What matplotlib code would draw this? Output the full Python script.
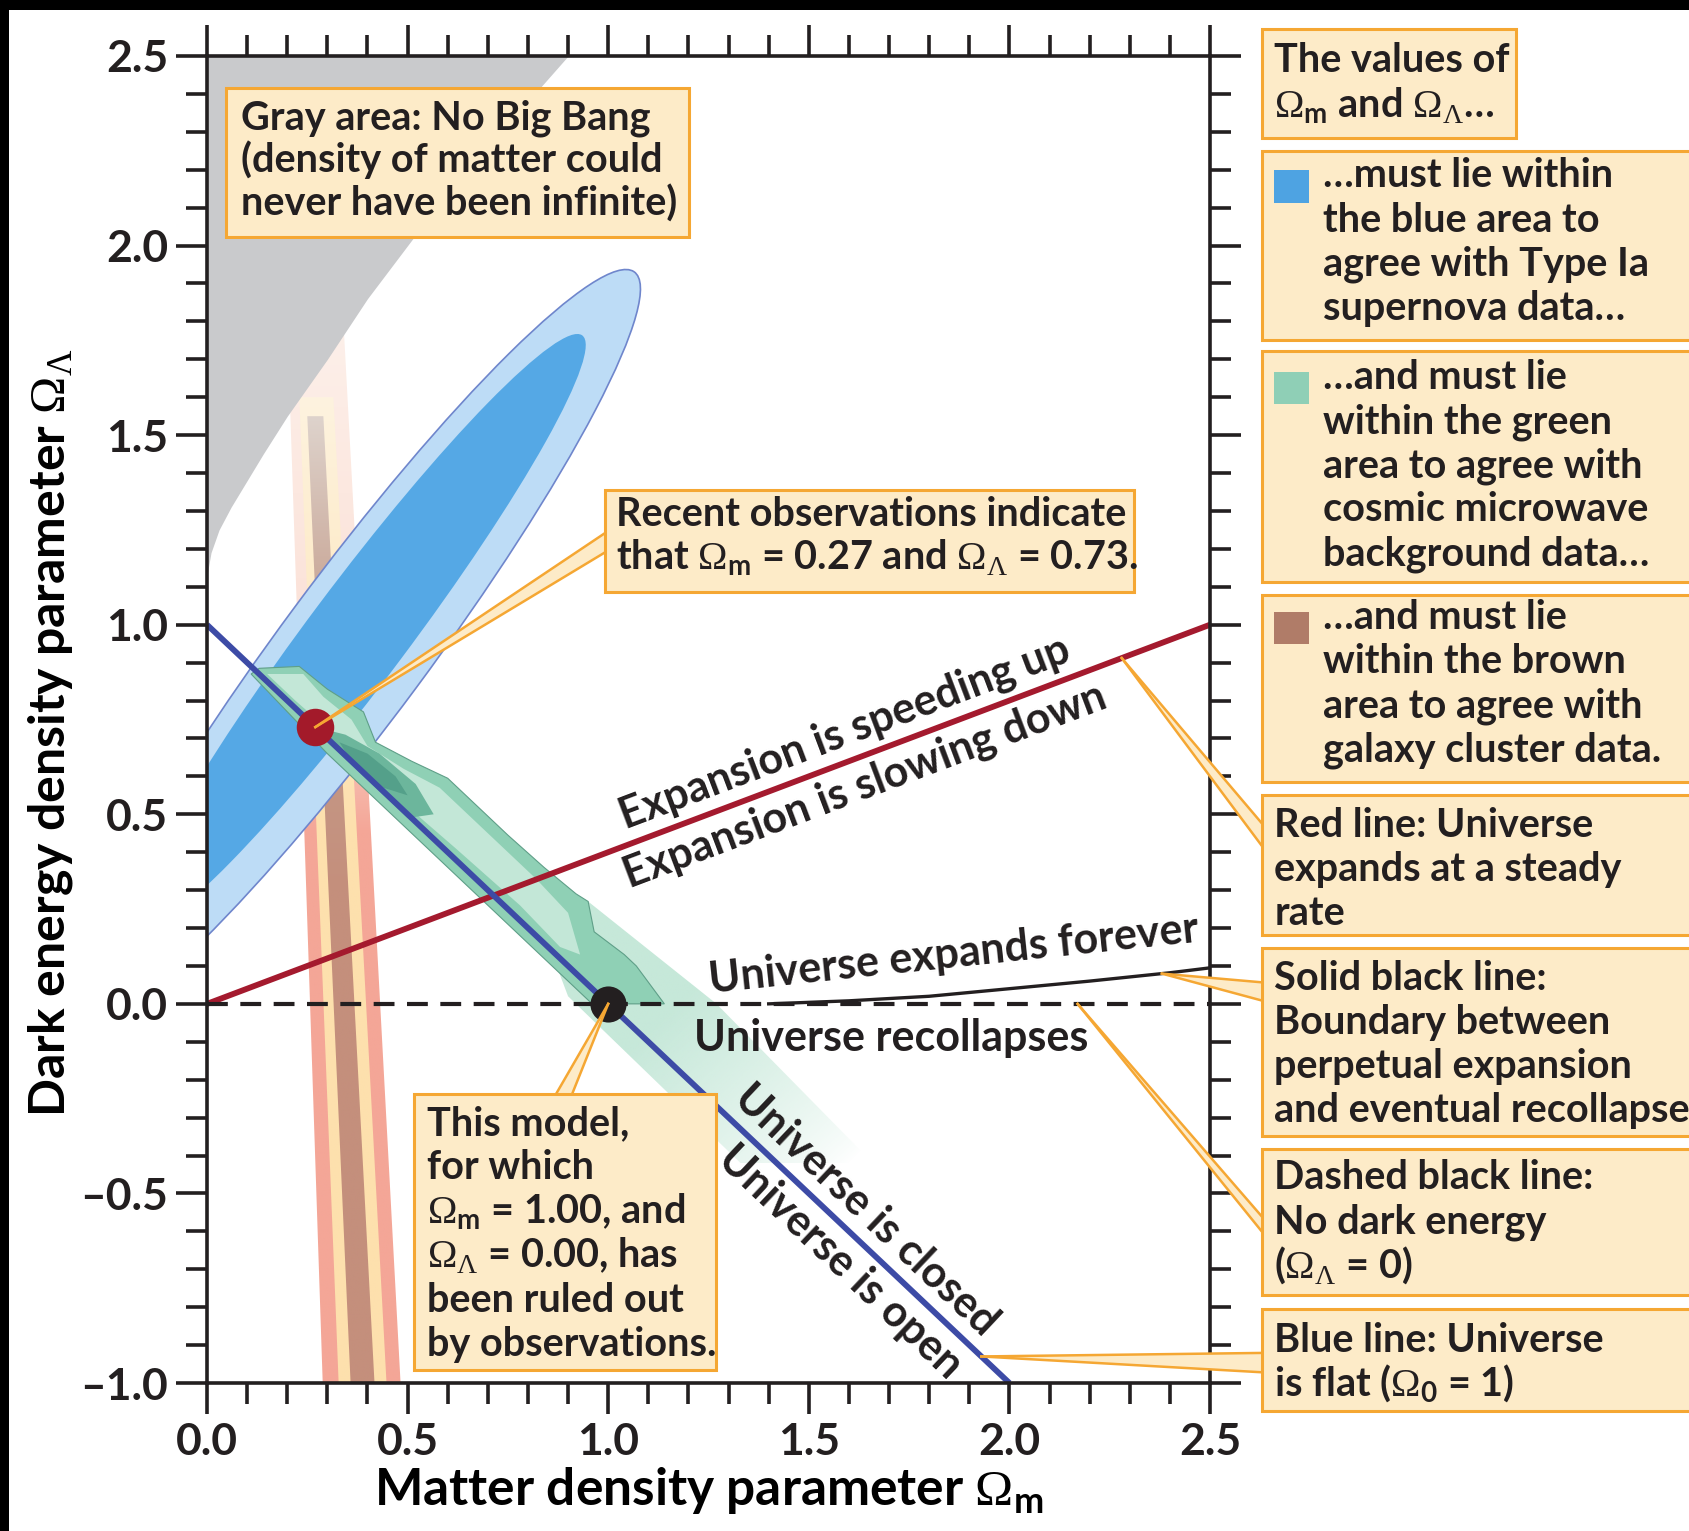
import numpy as np
import matplotlib
matplotlib.use('Agg')
import matplotlib.pyplot as plt
import matplotlib.patches as patches
from matplotlib.lines import Line2D
from matplotlib.ticker import MultipleLocator, FuncFormatter

plt.rcParams['font.family'] = ['Lato', 'DejaVu Sans']
plt.rcParams['font.weight'] = 'bold'
plt.rcParams['axes.labelweight'] = 'bold'
plt.rcParams['mathtext.fontset'] = 'custom'
plt.rcParams['mathtext.rm'] = 'Lato:bold'
plt.rcParams['mathtext.bf'] = 'Lato:bold'
plt.rcParams['mathtext.it'] = 'Lato:bold'
plt.rcParams['mathtext.sf'] = 'Lato:bold'
plt.rcParams['mathtext.cal'] = 'Liberation Serif:regular'
plt.rcParams['text.color'] = '#231f20'

# ---- data ----
# no big bang boundary (gray area lies to the upper left)
nbb_x = [0.0, 0.01, 0.03, 0.06, 0.10, 0.14, 0.20, 0.30, 0.40, 0.50, 0.60, 0.70, 0.80, 0.90]
nbb_y = [1.13, 1.19, 1.25, 1.31, 1.38, 1.45, 1.55, 1.70, 1.86, 2.00, 2.14, 2.26, 2.38, 2.50]

# supernova confidence ellipses: centre, full width, full height, tilt (deg)
sn_outer_c, sn_outer_w, sn_outer_h, sn_outer_a = (0.37, 0.94), 2.42, 0.37, 55.0
sn_inner_c, sn_inner_w, sn_inner_h, sn_inner_a = (0.38, 0.98), 1.92, 0.25, 54.7

# galaxy cluster bands (x of left/right edge at bottom and top)
pink_x = [0.29, 0.485, 0.34, 0.20]
pink_y = [-1.05, -1.05, 1.80, 1.80]
yellow_x = [0.33, 0.45, 0.315, 0.23]
yellow_y = [-1.05, -1.05, 1.60, 1.60]
brown_x = [0.36, 0.42, 0.29, 0.25]
brown_y = [-1.05, -1.05, 1.55, 1.55]

# CMB region
cmb_faint_x = [0.80, 0.95, 1.27, 1.66, 1.33, 0.90]
cmb_faint_y = [0.30, 0.27, 0.0, -0.42, -0.42, 0.02]
cmb_x = [0.11, 0.13, 0.23, 0.30, 0.39, 0.42, 0.51, 0.60, 0.68, 0.75, 0.84, 0.92, 0.95, 0.965,
         1.04, 1.07, 1.14, 0.96, 0.60, 0.30]
cmb_y = [0.87, 0.885, 0.89, 0.83, 0.77, 0.69, 0.64, 0.595, 0.515, 0.445, 0.36, 0.29, 0.27, 0.19,
         0.13, 0.10, 0.0, 0.0, 0.36, 0.66]
cmb_light_x = [0.15, 0.24, 0.29, 0.36, 0.40, 0.49, 0.58, 0.66, 0.73, 0.82, 0.90, 0.93,
               0.88, 0.78, 0.62, 0.50, 0.36, 0.22]
cmb_light_y = [0.87, 0.87, 0.81, 0.75, 0.68, 0.62, 0.57, 0.49, 0.42, 0.33, 0.24, 0.13,
               0.15, 0.26, 0.41, 0.52, 0.67, 0.80]
cmb_dark_x = [0.27, 0.345, 0.43, 0.52, 0.565, 0.50, 0.40, 0.30]
cmb_dark_y = [0.73, 0.71, 0.66, 0.58, 0.50, 0.49, 0.59, 0.69]
cmb_core_x = [0.33, 0.40, 0.47, 0.50, 0.44, 0.36]
cmb_core_y = [0.69, 0.66, 0.60, 0.55, 0.57, 0.64]

# lines
flat_x, flat_y = [0.0, 2.0], [1.0, -1.0]
steady_x, steady_y = [0.0, 2.5], [0.0, 1.0]
nodark_x, nodark_y = [0.0, 2.5], [0.0, 0.0]
bound_x = [1.4, 1.6, 1.8, 2.0, 2.2, 2.4, 2.5]
bound_y = [0.0, 0.008, 0.02, 0.04, 0.06, 0.082, 0.095]

best_fit = (0.27, 0.73)
eds_model = (1.00, 0.00)

# ---- colours / sizes ----
INK = '#231f20'
CREAM = '#fdebc8'
ORANGE = '#f5a733'
FS_BOX = 28.5
FS_LAB = 31

W, H = 1689, 1531
S = W / 1568.0          # layout below is measured on a 1568 px wide view


def fxy(xd, yd):
    return xd * S / W, 1 - yd * S / H


fig = plt.figure(figsize=(W / 100, H / 100), dpi=100, facecolor='black')
fig.add_artist(patches.Rectangle((9 / W, 0), 1, 1 - 10 / H, transform=fig.transFigure,
                                 fc='white', ec='none', zorder=-10))

ax = fig.add_axes([207 / W, 1 - 1383 / H, 1003 / W, 1327 / H])
ax.set_xlim(0, 2.5)
ax.set_ylim(-1, 2.5)


def grad_poly(xs, ys, stop_y, stop_c, zorder):
    poly = patches.Polygon(np.column_stack([xs, ys]), closed=True, fc='none', ec='none')
    ax.add_patch(poly)
    y0, y1 = min(ys), max(ys)
    yy = np.linspace(y1, y0, 400)
    cols = [matplotlib.colors.to_rgb(c) for c in stop_c]
    rgb = [np.interp(yy, stop_y, [c[i] for c in cols]) for i in range(3)]
    img = np.stack(rgb + [np.ones_like(yy)], axis=-1).reshape(400, 1, 4)
    im = ax.imshow(img, extent=[min(xs), max(xs), y0, y1], aspect='auto',
                   interpolation='bilinear', zorder=zorder)
    im.set_clip_path(poly)


# cluster bands
grad_poly(pink_x, pink_y, [-1.05, 0.45, 0.9, 1.8], ['#f4a697', '#f4a697', '#fbe0d6', '#fdf0ea'], 1)
grad_poly(yellow_x, yellow_y, [-1.05, 0.45, 1.6], ['#fde0ad', '#fde0ad', '#fef3df'], 1.1)
grad_poly(brown_x, brown_y, [-1.05, 0.3, 1.0, 1.55], ['#c48f7c', '#c48f7c', '#c6a08f', '#ded3cc'], 1.2)

# no big bang
ax.fill_betweenx(nbb_y, 0, nbb_x, color='#c9cacc', lw=0, zorder=2)

# supernova ellipses
ax.add_patch(patches.Ellipse(sn_outer_c, sn_outer_w, sn_outer_h, angle=sn_outer_a,
                             fc='#bddcf6', ec='#6f86cc', lw=1.2, zorder=3))
ax.add_patch(patches.Ellipse(sn_inner_c, sn_inner_w, sn_inner_h, angle=sn_inner_a,
                             fc='#55a8e5', ec='none', zorder=3.1))

# faint CMB trail, fading along the flat line
poly = patches.Polygon(np.column_stack([cmb_faint_x, cmb_faint_y]), closed=True, fc='none', ec='none')
ax.add_patch(poly)
gx = np.linspace(min(cmb_faint_x), max(cmb_faint_x), 200)
gy = np.linspace(max(cmb_faint_y), min(cmb_faint_y), 200)
GX, GY = np.meshgrid(gx, gy)
alpha = np.clip((2.02 - (GX - GY)) / 0.85, 0, 1) ** 0.8
img = np.zeros(GX.shape + (4,))
img[..., :3] = matplotlib.colors.to_rgb('#c6e8d9')
img[..., 3] = alpha
im = ax.imshow(img, extent=[gx[0], gx[-1], gy[-1], gy[0]], aspect='auto',
               interpolation='bilinear', zorder=3.5)
im.set_clip_path(poly)

ax.fill(cmb_x, cmb_y, fc='#8fd0b5', ec='#5f9f88', lw=0.8, zorder=4)
ax.fill(cmb_light_x, cmb_light_y, fc='#c3e7d7', ec='none', zorder=4.1)
ax.fill(cmb_dark_x, cmb_dark_y, fc='#6cb69c', ec='none', zorder=4.2)
ax.fill(cmb_core_x, cmb_core_y, fc='#54a08a', ec='none', zorder=4.3)

# lines
ax.plot(steady_x, steady_y, color='#a41a2e', lw=4.2, solid_capstyle='butt', zorder=5)
ax.plot(flat_x, flat_y, color='#3d4ba6', lw=4.2, solid_capstyle='butt', zorder=5)
ax.plot(nodark_x, nodark_y, color=INK, lw=3.0, dashes=(5, 3), zorder=5)
ax.plot(bound_x, bound_y, color=INK, lw=2.4, zorder=5)

ax.plot(*best_fit, 'o', ms=27, color='#a31a2a', mec='none', zorder=6)
ax.plot(*eds_model, 'o', ms=26, color=INK, mec='none', zorder=6)

ax.set_xlim(0, 2.5)
ax.set_ylim(-1, 2.5)

# axes styling
for sp in ax.spines.values():
    sp.set_linewidth(2.6)
    sp.set_color(INK)
    sp.set_zorder(7)
ax.xaxis.set_major_locator(MultipleLocator(0.5))
ax.xaxis.set_minor_locator(MultipleLocator(0.1))
ax.yaxis.set_major_locator(MultipleLocator(0.5))
ax.yaxis.set_minor_locator(MultipleLocator(0.1))
fmt = FuncFormatter(lambda v, p: f'{v:.1f}'.replace('-', '\u2013'))
ax.xaxis.set_major_formatter(fmt)
ax.yaxis.set_major_formatter(fmt)
ax.tick_params(which='both', direction='out', top=True, right=True, width=2.6, color=INK,
               labelsize=32, labelcolor=INK)
ax.tick_params(which='major', length=22, pad=6)
ax.tick_params(which='minor', length=15)

OM = r'$\mathcal{\Omega}_{\mathrm{m}}$'
OL = r'$\mathcal{\Omega}_{\mathcal{\Lambda}}$'
O0 = r'$\mathcal{\Omega}_{\mathrm{0}}$'

ax.set_xlabel('Matter density parameter ' + OM, fontsize=37, fontweight='bold')
ax.set_ylabel('Dark energy density parameter ' + OL, fontsize=36, fontweight='bold')
ax.xaxis.set_label_coords(0.5, -0.062)
ax.yaxis.set_label_coords(-0.132, 0.49)


def disp_angle(xs, ys):
    p0 = ax.transData.transform((xs[0], ys[0]))
    p1 = ax.transData.transform((xs[-1], ys[-1]))
    return np.degrees(np.arctan2(p1[1] - p0[1], p1[0] - p0[0]))


red_ang = disp_angle(steady_x, steady_y)
blue_ang = disp_angle(flat_x, flat_y)
lab = dict(fontsize=FS_LAB, ha='center', va='center', rotation_mode='anchor', zorder=8)
ax.text(1.59, 0.715, 'Expansion is speeding up', rotation=red_ang, **lab)
ax.text(1.64, 0.575, 'Expansion is slowing down', rotation=red_ang, **lab)
ax.text(1.862, 0.13, 'Universe expands forever', rotation=6, **lab)
ax.text(1.705, -0.09, 'Universe recollapses', **lab)
ax.text(1.643, -0.544, 'Universe is closed', rotation=blue_ang, **lab)
ax.text(1.58, -0.68, 'Universe is open', rotation=blue_ang, **lab)

# ---- call-out boxes ----
inv = fig.transFigure.inverted()


def data_fig(pt):
    return inv.transform(ax.transData.transform(pt))


def box(x0, y0, x1, y1):
    fx0, fy1 = fxy(x0, y1)
    fx1, fy0 = fxy(x1, y0)
    fig.add_artist(patches.Rectangle((fx0, fy1), fx1 - fx0, fy0 - fy1, transform=fig.transFigure,
                                     fc=CREAM, ec=ORANGE, lw=2.2, zorder=10))


def lines(x, y_first, texts, step=41):
    for i, t in enumerate(texts):
        fx, fy = fxy(x, y_first + 12 + i * step)
        fig.text(fx, fy, t, fontsize=FS_BOX, ha='left', va='baseline', zorder=12)


def wedge(tip, b1, b2):
    t = data_fig(tip)
    p1 = fxy(*b1)
    p2 = fxy(*b2)
    fig.add_artist(patches.Polygon([t, p1, p2], closed=True, transform=fig.transFigure,
                                   fc=CREAM, ec='none', zorder=9))
    for p in (p1, p2):
        fig.add_artist(Line2D([t[0], p[0]], [t[1], p[1]], transform=fig.transFigure,
                              color=ORANGE, lw=1.8, zorder=9.5))


def square(x0, y0, color):
    fx0, fy1 = fxy(x0, y0 + 30)
    fx1, fy0 = fxy(x0 + 32, y0)
    fig.add_artist(patches.Rectangle((fx0, fy1), fx1 - fx0, fy0 - fy1, transform=fig.transFigure,
                                     fc=color, ec='none', zorder=11))


# inside the plot
box(210, 82, 640, 220)
lines(224, 108, ['Gray area: No Big Bang', '(density of matter could', 'never have been infinite)'], 40)

wedge(best_fit, (563, 494), (563, 512))
box(562, 455, 1053, 550)
lines(572, 476, ['Recent observations indicate',
                 'that ' + OM + ' = 0.27 and ' + OL + ' = 0.73.'])

wedge(eds_model, (516, 1016), (531, 1016))
box(384, 1016, 665, 1272)
lines(396, 1042, ['This model,', 'for which', OM + ' = 1.00, and', OL + ' = 0.00, has',
                  'been ruled out', 'by observations.'])

# right column
box(1172, 27, 1407, 128)
lines(1183, 55, ['The values of', OM + ' and ' + OL + '\u2026'], 42)

box(1172, 140, 1580, 316)
square(1183, 158, '#4ea3e2')
lines(1228, 162, ['\u2026must lie within', 'the blue area to', 'agree with Type Ia',
                  'supernova data\u2026'])

box(1172, 326, 1580, 540)
square(1183, 345, '#8fcfb6')
lines(1228, 349, ['\u2026and must lie', 'within the green', 'area to agree with',
                  'cosmic microwave', 'background data\u2026'])

box(1172, 552, 1580, 726)
square(1183, 568, '#b07c68')
lines(1228, 572, ['\u2026and must lie', 'within the brown', 'area to agree with',
                  'galaxy cluster data.'])

wedge((2.28, np.interp(2.28, steady_x, steady_y)), (1172, 765), (1172, 786))
box(1172, 738, 1580, 868)
lines(1183, 765, ['Red line: Universe', 'expands at a steady', 'rate'])

wedge((2.38, np.interp(2.38, bound_x, bound_y)), (1172, 912), (1172, 929))
box(1172, 880, 1580, 1055)
lines(1183, 907, ['Solid black line:', 'Boundary between', 'perpetual expansion',
                  'and eventual recollapse'])

wedge((2.17, np.interp(2.17, nodark_x, nodark_y)), (1172, 1130), (1172, 1144))
box(1172, 1067, 1580, 1202)
lines(1183, 1092, ['Dashed black line:', 'No dark energy', '(' + OL + ' = 0)'])

wedge((1.93, np.interp(1.93, flat_x, flat_y)), (1172, 1256), (1172, 1274))
box(1172, 1215, 1580, 1310)
lines(1183, 1243, ['Blue line: Universe', 'is flat (' + O0 + ' = 1)'])

fig.savefig('out.png', dpi=100, facecolor=fig.get_facecolor())
